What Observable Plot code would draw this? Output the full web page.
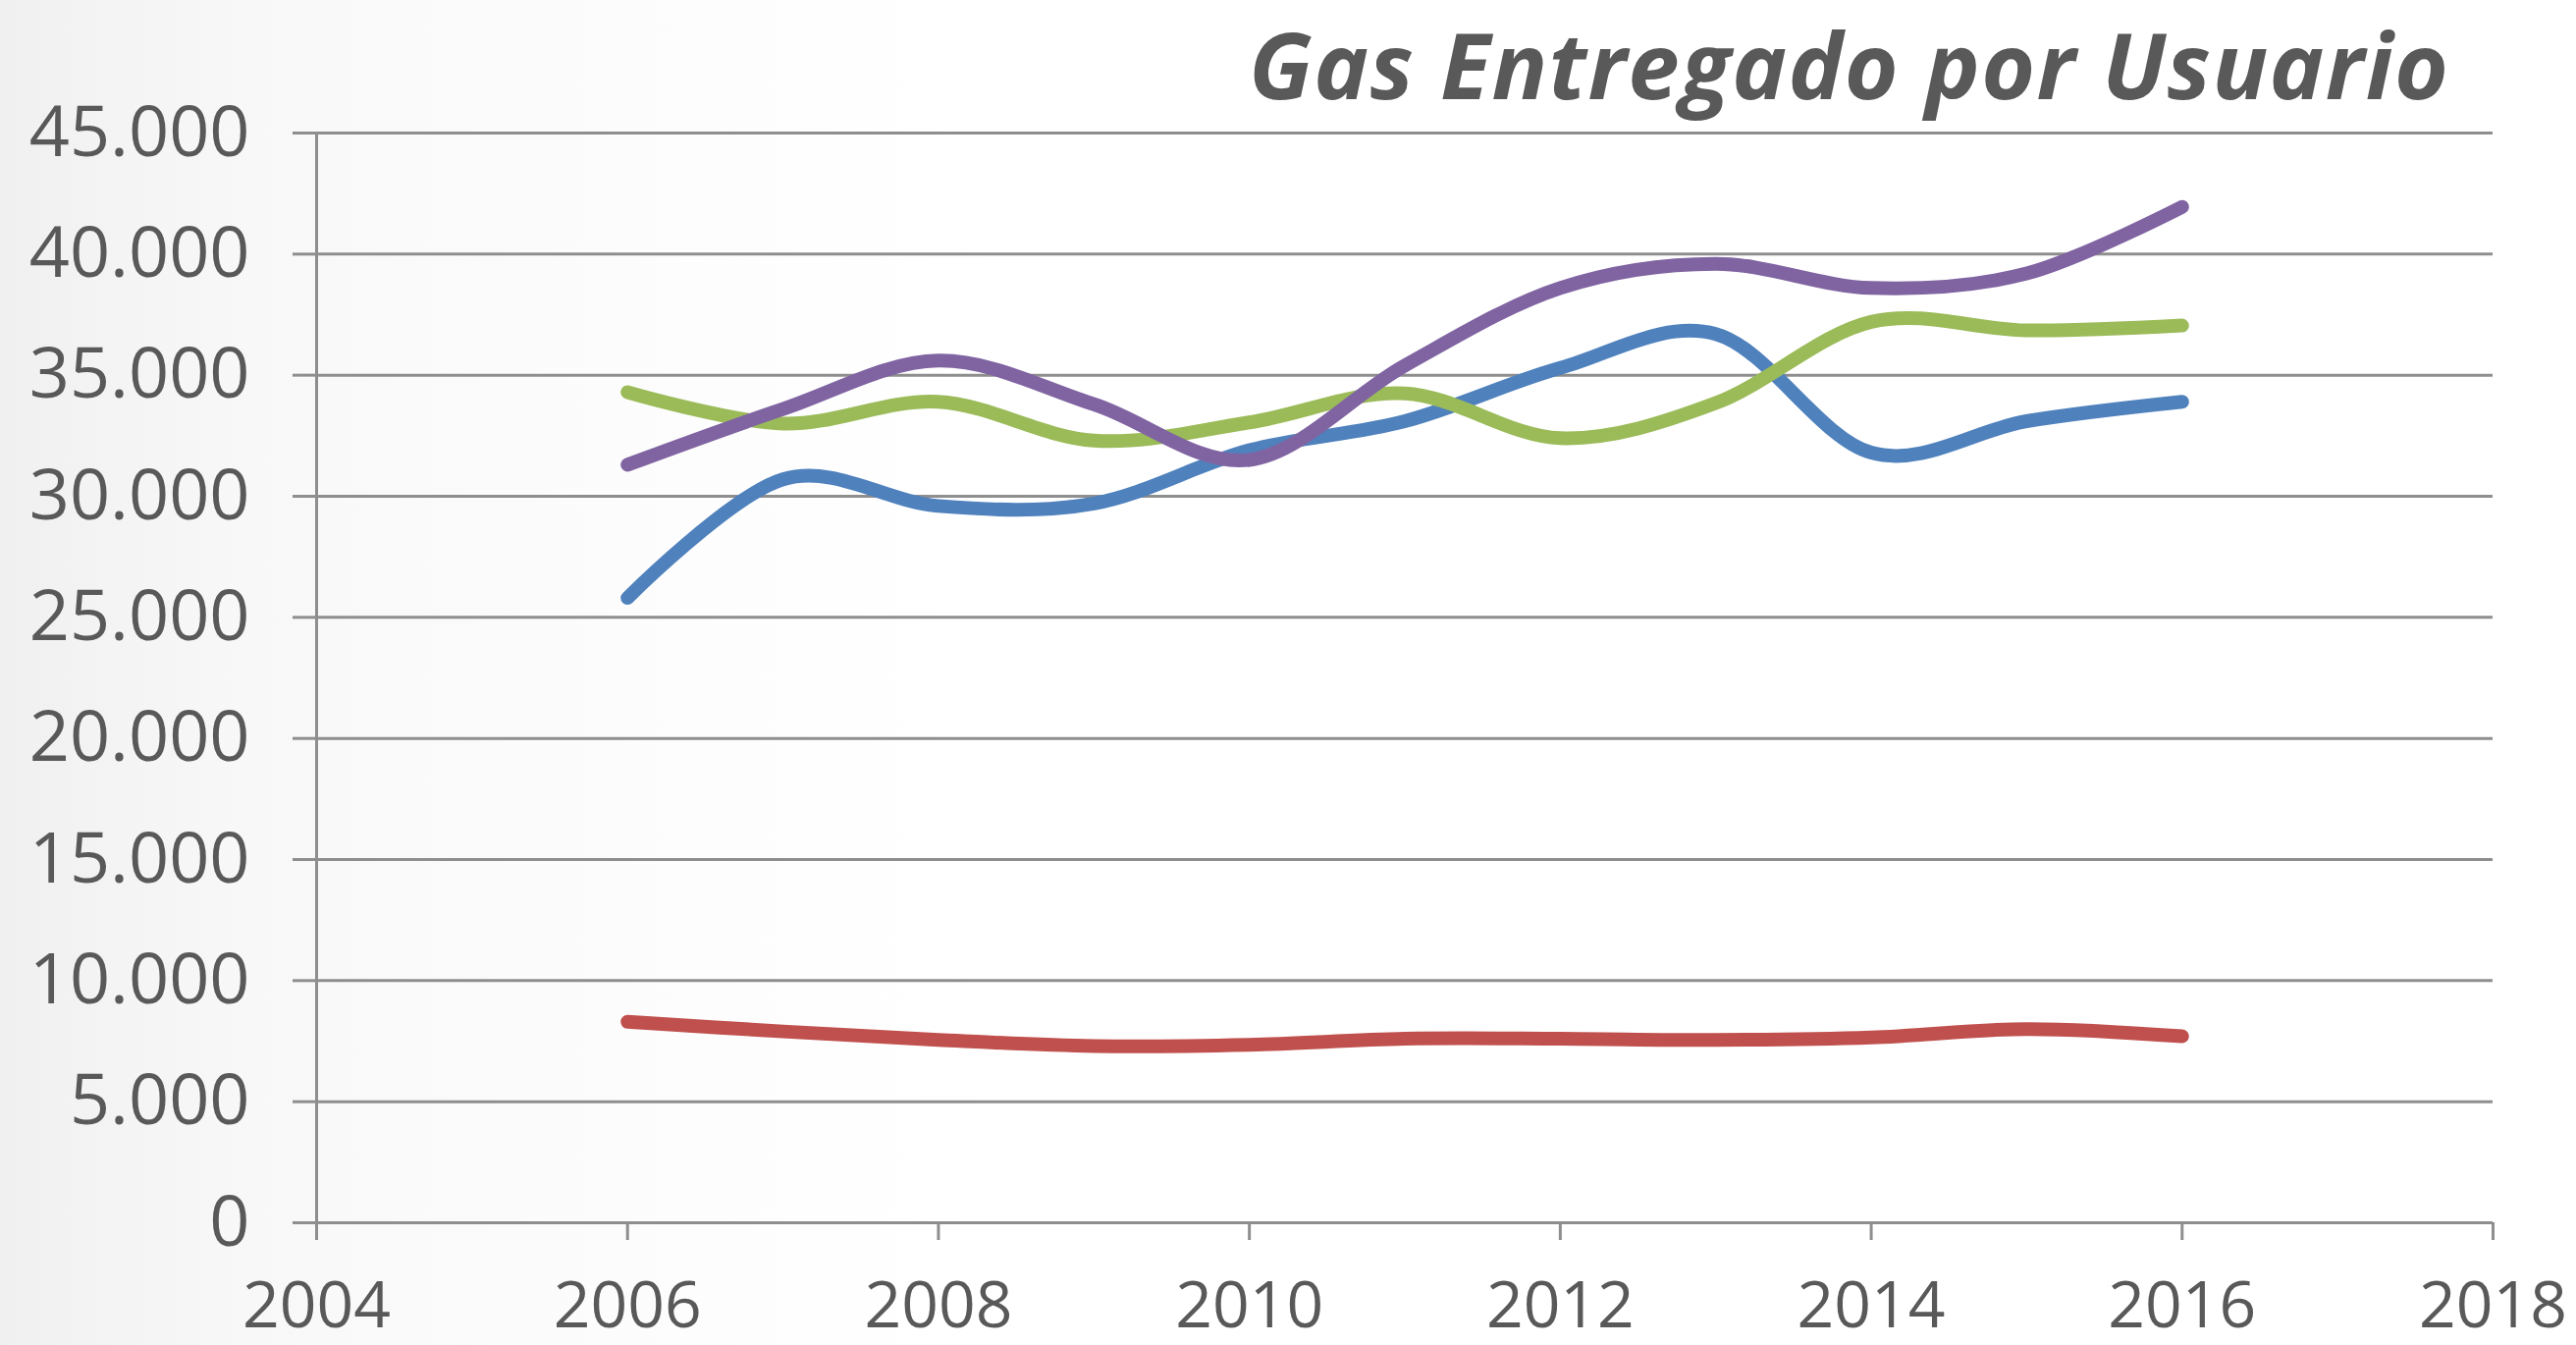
<!DOCTYPE html>
<html>
<head>
<meta charset="utf-8">
<script src="https://cdn.jsdelivr.net/npm/d3@7"></script>
<script src="https://cdn.jsdelivr.net/npm/@observablehq/plot@0.6"></script>
<style>
  html, body { margin: 0; padding: 0; }
  body {
    width: 2624px; height: 1370px; overflow: hidden;
    background: linear-gradient(to right, #f0f0f0 0px, #f8f8f8 250px, #fdfdfd 700px, #ffffff 1000px);
    font-family: "Open Sans", sans-serif;
  }
  #wrap { position: relative; width: 2624px; height: 1370px; }
  #title {
    position: absolute; left: 1272px; top: 14px; white-space: nowrap;
    font-family: "Open Sans", sans-serif; font-style: italic; font-weight: 700;
    font-size: 94px; line-height: 1.1; color: #595959;
  }
  #chart svg { background: transparent !important; }
</style>
</head>
<body>
<div id="wrap">
  <div id="chart"></div>
  <div id="title"><span id="titleText"></span></div>
</div>
<script>
const titleText = "Gas Entregado por Usuario";
const years = [2006, 2007, 2008, 2009, 2010, 2011, 2012, 2013, 2014, 2015, 2016];
const seriesBlue   = [25800, 30700, 29600, 29700, 31900, 33100, 35300, 36700, 31800, 33100, 33900];
const seriesRed    = [8300, 7900, 7550, 7300, 7350, 7600, 7600, 7550, 7650, 8000, 7700];
const seriesGreen  = [34300, 33000, 33900, 32300, 33050, 34250, 32400, 33850, 37200, 36850, 37050];
const seriesPurple = [31300, 33600, 35600, 33800, 31500, 35400, 38600, 39600, 38600, 39200, 41950];
const seriesNames  = ["Azul", "Rojo", "Verde", "Morado"];
const seriesColors = ["#4f81bd", "#c0504d", "#9bbb59", "#8064a2"];
const xTicks = [2004, 2006, 2008, 2010, 2012, 2014, 2016, 2018];
const yTicks = [0, 5000, 10000, 15000, 20000, 25000, 30000, 35000, 40000, 45000];

const allSeries = [seriesBlue, seriesRed, seriesGreen, seriesPurple];
const data = [];
allSeries.forEach((vals, i) => vals.forEach((v, j) => data.push({year: years[j], value: v, serie: seriesNames[i]})));

const loc = d3.formatLocale({decimal: ",", thousands: ".", grouping: [3], currency: ["", ""]});
const fmtY = loc.format(",d");

const gridColor = "#8e8e8e";
const textColor = "#595959";

const chart = Plot.plot({
  width: 2624,
  height: 1370,
  marginLeft: 322,
  marginRight: 85,
  marginTop: 135,
  marginBottom: 125,
  style: {background: "transparent", color: textColor, fontFamily: "Open Sans, sans-serif", overflow: "visible"},
  x: {domain: [2004, 2018], ticks: xTicks, tickFormat: d => String(d)},
  y: {domain: [0, 45000], ticks: yTicks, tickFormat: fmtY},
  color: {domain: seriesNames, range: seriesColors},
  marks: [
    Plot.ruleY(yTicks, {x1: 2004, x2: 2018, stroke: gridColor, strokeWidth: 3}),
    Plot.ruleX([2004], {y1: 0, y2: 45000, stroke: gridColor, strokeWidth: 3}),
    Plot.axisY({ticks: yTicks, tickFormat: fmtY, tickSize: 24, tickPadding: 44, fontSize: 72, stroke: gridColor, strokeWidth: 3, label: null, color: textColor}),
    Plot.axisX({ticks: xTicks, tickFormat: d => String(d), tickSize: 18, tickPadding: 42, fontSize: 66, stroke: gridColor, strokeWidth: 3, label: null, color: textColor}),
    Plot.line(data, {x: "year", y: "value", z: "serie", stroke: "serie", strokeWidth: 14, curve: "cardinal", strokeLinecap: "round", strokeLinejoin: "round"})
  ]
});
document.getElementById("chart").appendChild(chart);

// fit title width (x 1275 -> 2497) by letter-spacing
const span = document.getElementById("titleText");
span.textContent = titleText;
const w0 = span.getBoundingClientRect().width;
const ls = (1222 - w0) / (titleText.length - 1);
span.style.letterSpacing = ls + "px";
</script>
</body>
</html>
